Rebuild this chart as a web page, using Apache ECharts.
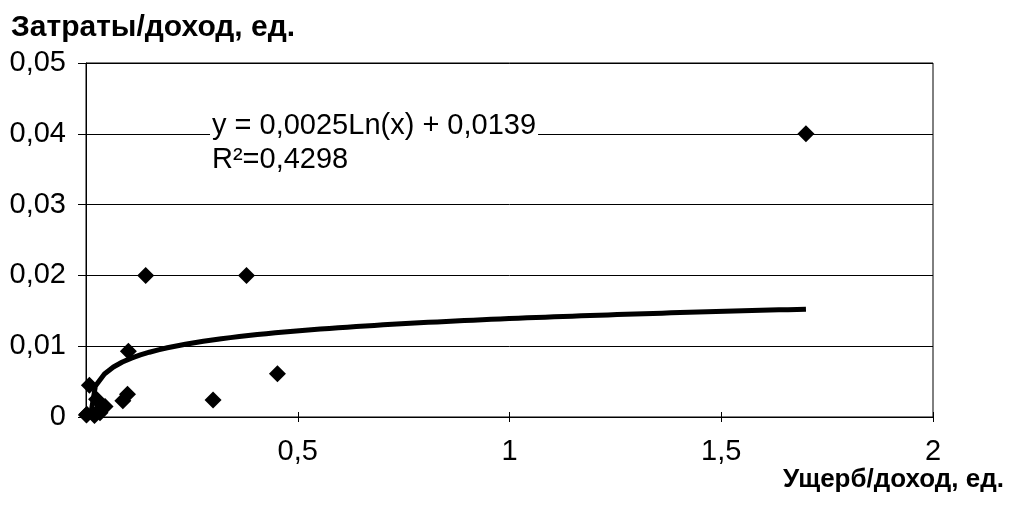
<!DOCTYPE html>
<html>
<head>
<meta charset="utf-8">
<script src="https://cdn.jsdelivr.net/npm/echarts@6/dist/echarts.min.js"></script>
<style>
  html, body { margin: 0; padding: 0; background: #fff; }
  #chart { width: 1009px; height: 509px; }
</style>
</head>
<body>
<div id="chart"></div>
<script>
// Observed points: damage/income ratio (x) vs. cost/income ratio (y)
const damageRatio = [0.001, 0.002, 0.008, 0.02, 0.025, 0.03, 0.033, 0.04, 0.045, 0.087, 0.098, 0.1, 0.141, 0.3, 0.379, 0.452, 1.7];
const costRatio   = [0.0003, 0.0004, 0.0045, 0.0002, 0.0025, 0.0008, 0.0006, 0.0014, 0.0015, 0.0023, 0.0032, 0.0093, 0.02, 0.0024, 0.02, 0.0061, 0.04];

// Logarithmic trend: y = a*ln(x) + b, as given in the equation label
const trendA = 0.0025;
const trendB = 0.0139;
const rSquared = 0.4298;

const xTicks = [0, 0.5, 1, 1.5, 2];
const yTicks = [0, 0.01, 0.02, 0.03, 0.04, 0.05];

const fmt = v => String(v).replace('.', ',');

const points = damageRatio.map((x, i) => [x, costRatio[i]]);

// Trend curve sampled over the data's x range
const xLo = Math.min(...damageRatio);
const xHi = Math.max(...damageRatio);
const steps = 80;
const trend = [];
for (let i = 0; i <= steps; i++) {
  const x = xLo + (xHi - xLo) * i / steps;
  trend.push([x, trendA * Math.log(x) + trendB]);
}

const FONT = '"Liberation Sans", Arial, sans-serif';
const chart = echarts.init(document.getElementById('chart'), null, { renderer: 'canvas' });

chart.setOption({
  animation: false,
  backgroundColor: '#fff',
  textStyle: { fontFamily: FONT, color: '#000' },
  grid: {
    left: 86, right: 76, top: 63, bottom: 92,
    show: true, borderColor: '#000', borderWidth: 1, backgroundColor: 'transparent'
  },
  xAxis: [{
    type: 'value', min: xTicks[0], max: xTicks[xTicks.length - 1], interval: 0.5,
    axisLine: { show: true, onZero: false, lineStyle: { color: '#000', width: 1 } },
    axisTick: { show: true, length: 5, lineStyle: { color: '#000' } },
    axisLabel: {
      fontSize: 29, color: '#000', fontFamily: FONT, margin: 20,
      formatter: v => (v === 0 ? '' : fmt(v))
    },
    splitLine: { show: false }
  }, {
    // inner half of the crossing tick marks
    type: 'value', min: xTicks[0], max: xTicks[xTicks.length - 1], interval: 0.5,
    position: 'bottom',
    axisLine: { show: false, onZero: false },
    axisTick: { show: true, inside: true, length: 5, lineStyle: { color: '#000' } },
    axisLabel: { show: false },
    splitLine: { show: false }
  }],
  yAxis: {
    type: 'value', min: yTicks[0], max: yTicks[yTicks.length - 1], interval: 0.01,
    axisLine: { show: true, onZero: false, lineStyle: { color: '#000', width: 1 } },
    axisTick: { show: true, length: 8, lineStyle: { color: '#000' } },
    axisLabel: { fontSize: 29, color: '#000', fontFamily: FONT, margin: 20, formatter: v => fmt(+v.toFixed(2)) },
    splitLine: { show: true, lineStyle: { color: '#000', width: 1 } }
  },
  series: [{
    type: 'line',
    data: trend,
    showSymbol: false,
    symbol: 'none',
    clip: true,
    lineStyle: { color: '#000', width: 5 },
    z: 2
  }, {
    type: 'scatter',
    data: points,
    symbol: 'diamond',
    symbolSize: 17,
    itemStyle: { color: '#000', opacity: 1 },
    clip: false,
    z: 3
  }],
  graphic: [{
    type: 'text', left: 11, top: 13,
    style: { text: 'Затраты/доход, ед.', font: 'bold 30px ' + FONT, fill: '#000' }
  }, {
    type: 'text', right: 5, top: 467,
    style: { text: 'Ущерб/доход, ед.', font: 'bold 26px ' + FONT, fill: '#000' }
  }, {
    type: 'text', left: 210, top: 109, z: 10,
    style: {
      text: 'y = ' + fmt(trendA) + 'Ln(x) + ' + fmt(trendB) + '\nR²=' + fmt(rSquared),
      font: '29px ' + FONT, fill: '#000', lineHeight: 34,
      backgroundColor: '#fff', padding: [0, 2, 0, 2]
    }
  }]
});
</script>
</body>
</html>
